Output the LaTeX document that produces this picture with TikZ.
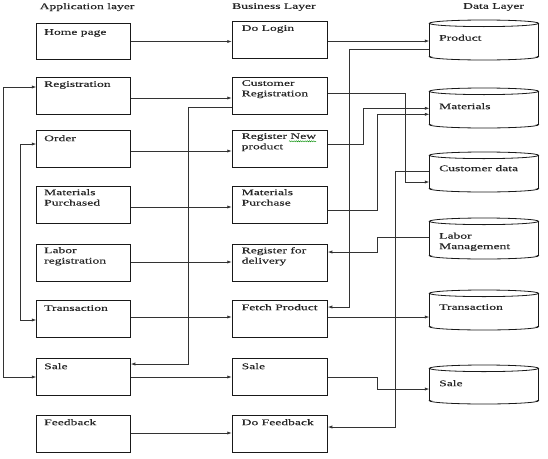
\documentclass[tikz,border=0pt]{standalone}
\usepackage{fontspec}
\setmainfont{Liberation Serif}[FakeStretch=1.58, FakeBold=0.3]
\usetikzlibrary{arrows.meta,decorations.pathmorphing}

\tikzset{
  lbl/.style={anchor=north west, inner sep=0pt, align=left, text=black!85,
    font=\fontsize{8.6}{10.4}\selectfont},
  blk/.style={draw=black!90, line width=0.8pt, inner sep=0pt, anchor=north west},
  appbox/.style={blk, minimum width=93.6pt, minimum height=37pt},
  busbox/.style={blk, minimum width=95.2pt, minimum height=37pt},
  store/.style={inner sep=0pt, anchor=north west, minimum width=109.1pt},
  rim/.style={draw=black!90, line width=0.8pt},
  wire/.style={draw=black!80, line width=0.75pt},
  flow/.style={wire, -{Latex[length=4.5pt,width=3.2pt]}},
  flowboth/.style={wire, {Latex[length=4.5pt,width=3.2pt]}-{Latex[length=4.5pt,width=3.2pt]}},
}

% data store: name, top, bottom (all stores share the same left/right edges)
\newcommand\datastore[3]{%
  \node[store, minimum height={(#3-#2)*1pt}] (#1) at (429.4,#2) {};
  \draw[rim] (429.4,#2+3.3) -- (429.4,#3-3.3) (538.5,#2+3.3) -- (538.5,#3-3.3);
  \draw[rim] (483.95,#2+3.3) ellipse [x radius=54.55, y radius=3.3];
  \begin{scope}
    \clip (427,#3-3.3) rectangle (541,#3+2);
    \draw[rim] (483.95,#3-3.3) ellipse [x radius=54.55, y radius=3.3];
  \end{scope}
}

\begin{document}
\begin{tikzpicture}[x=1pt,y=-1pt]
\useasboundingbox (0,0) rectangle (548,458);

% column headings
\node[lbl] (hApp)  at (39.5,3) {Application layer};
\node[lbl] (hBus)  at (232,3)  {Business Layer};
\node[lbl] (hData) at (463,3)  {Data Layer};

% application layer
\node[appbox, minimum height=36pt] (hp) at (36.4,23.3) {};
\node[appbox] (reg)   at (36.4,76.7) {};
\node[appbox] (order) at (36.4,130)  {};
\node[appbox] (matp)  at (36.4,186)  {};
\node[appbox] (labor) at (36.4,243.5){};
\node[appbox] (trans) at (36.4,300)  {};
\node[appbox] (sale)  at (36.4,358)  {};
\node[appbox] (fb)    at (36.4,414.5){};

\node[lbl] (tHp)    at (44,29)  {Home page};
\node[lbl] (tReg)   at (44,81)  {Registration};
\node[lbl] (tOrder) at (44,135) {Order};
\node[lbl] (tMatp)  at (44,189) {Materials\\Purchased};
\node[lbl] (tLabor) at (44,247) {Labor\\registration};
\node[lbl] (tTrans) at (44,305) {Transaction};
\node[lbl] (tSale)  at (44,363) {Sale};
\node[lbl] (tFb)    at (44,419) {Feedback};

% business layer
\node[busbox, minimum height=37.6pt] (login) at (231.8,20.7) {};
\node[busbox] (custreg) at (231.8,76.7) {};
\node[busbox] (regnew)  at (231.8,130)  {};
\node[busbox] (matpur)  at (231.8,186)  {};
\node[busbox] (regdel)  at (231.8,243.5){};
\node[busbox] (fetch)   at (231.8,300)  {};
\node[busbox] (sale2)   at (231.8,358)  {};
\node[busbox] (dofb)    at (231.8,414.5){};

\node[lbl] (tLogin)   at (241.5,25)  {Do Login};
\node[lbl] (tCustreg) at (241.5,80)  {Customer\\Registration};
\node[lbl] (tRegnew)  at (241.5,133) {Register New\\product};
\node[lbl] (tMatpur)  at (241.5,189) {Materials\\Purchase};
\node[lbl] (tRegdel)  at (241.5,247) {Register for\\delivery};
\node[lbl] (tFetch)   at (241.5,304) {Fetch Product};
\node[lbl] (tSale2)   at (241.5,363) {Sale};
\node[lbl] (tDofb)    at (241.5,419) {Do Feedback};

% spell-check mark under "New"
\draw[green!55!black, line width=0.4pt,
      decorate, decoration={snake, amplitude=0.6pt, segment length=2.2pt}]
  (289,141.3) -- (316,141.3);

% data layer
\datastore{product}{20}{60}
\datastore{materials}{88}{128}
\datastore{custdata}{152}{192}
\datastore{labormg}{218}{259}
\datastore{dbtrans}{290}{330}
\datastore{dbsale}{365}{404}

\node[lbl] (tProduct)   at (439,34.5) {Product};
\node[lbl] (tMaterials) at (439,103)  {Materials};
\node[lbl] (tCustdata)  at (439,165)  {Customer data};
\node[lbl] (tLabormg)   at (439,232.5){Labor\\Management};
\node[lbl] (tDbtrans)   at (439,304)  {Transaction};
\node[lbl] (tDbsale)    at (439,380)  {Sale};

% application -> business
\draw[flow] (hp.east |- 0,41.5)   -- (login.west |- 0,41.5);
\draw[flow] (reg.east |- 0,98)    -- (custreg.west |- 0,98);
\draw[flow] (order.east |- 0,151) -- (regnew.west |- 0,151);
\draw[flow] (matp.east |- 0,207)  -- (matpur.west |- 0,207);
\draw[flow] (labor.east |- 0,262) -- (regdel.west |- 0,262);
\draw[flow] (trans.east |- 0,317) -- (fetch.west |- 0,317);
\draw[flow] (sale.east |- 0,377)  -- (sale2.west |- 0,377);
\draw[flow] (fb.east |- 0,433)    -- (dofb.west |- 0,433);

% application layer loops
\draw[flowboth] (reg.west |- 0,87)    -| (3,377)  -- (sale.west |- 0,377);
\draw[flowboth] (order.west |- 0,144) -| (20.5,320) -- (trans.west |- 0,320);
\draw[flow] (custreg.west |- 0,107) -| (188.8,364) -- (sale.east |- 0,364);

% business -> data
\draw[flow] (login.east |- 0,41)    -- (product.west |- 0,41);
\draw[flow] (custreg.east |- 0,93)  -| (405.6,182)   -- (custdata.west |- 0,182);
\draw[flow] (regnew.east |- 0,144)  -| (363.5,108.3) -- (materials.west |- 0,108.3);
\draw[flow] (matpur.east |- 0,210)  -| (377.5,114.3) -- (materials.west |- 0,114.3);
\draw[flow] (fetch.east |- 0,317)   -- (dbtrans.west |- 0,317);
\draw[flow] (sale2.east |- 0,377)   -| (377.5,389)   -- (dbsale.west |- 0,389);

% data -> business
\draw[flow] (product.west |- 0,49)   -| (349.5,307) -- (fetch.east |- 0,307);
\draw[flow] (labormg.west |- 0,237)  -| (377.5,252) -- (regdel.east |- 0,252);
\draw[flow] (custdata.west |- 0,171) -| (395,427)   -- (dofb.east |- 0,427);
\end{tikzpicture}
\end{document}
